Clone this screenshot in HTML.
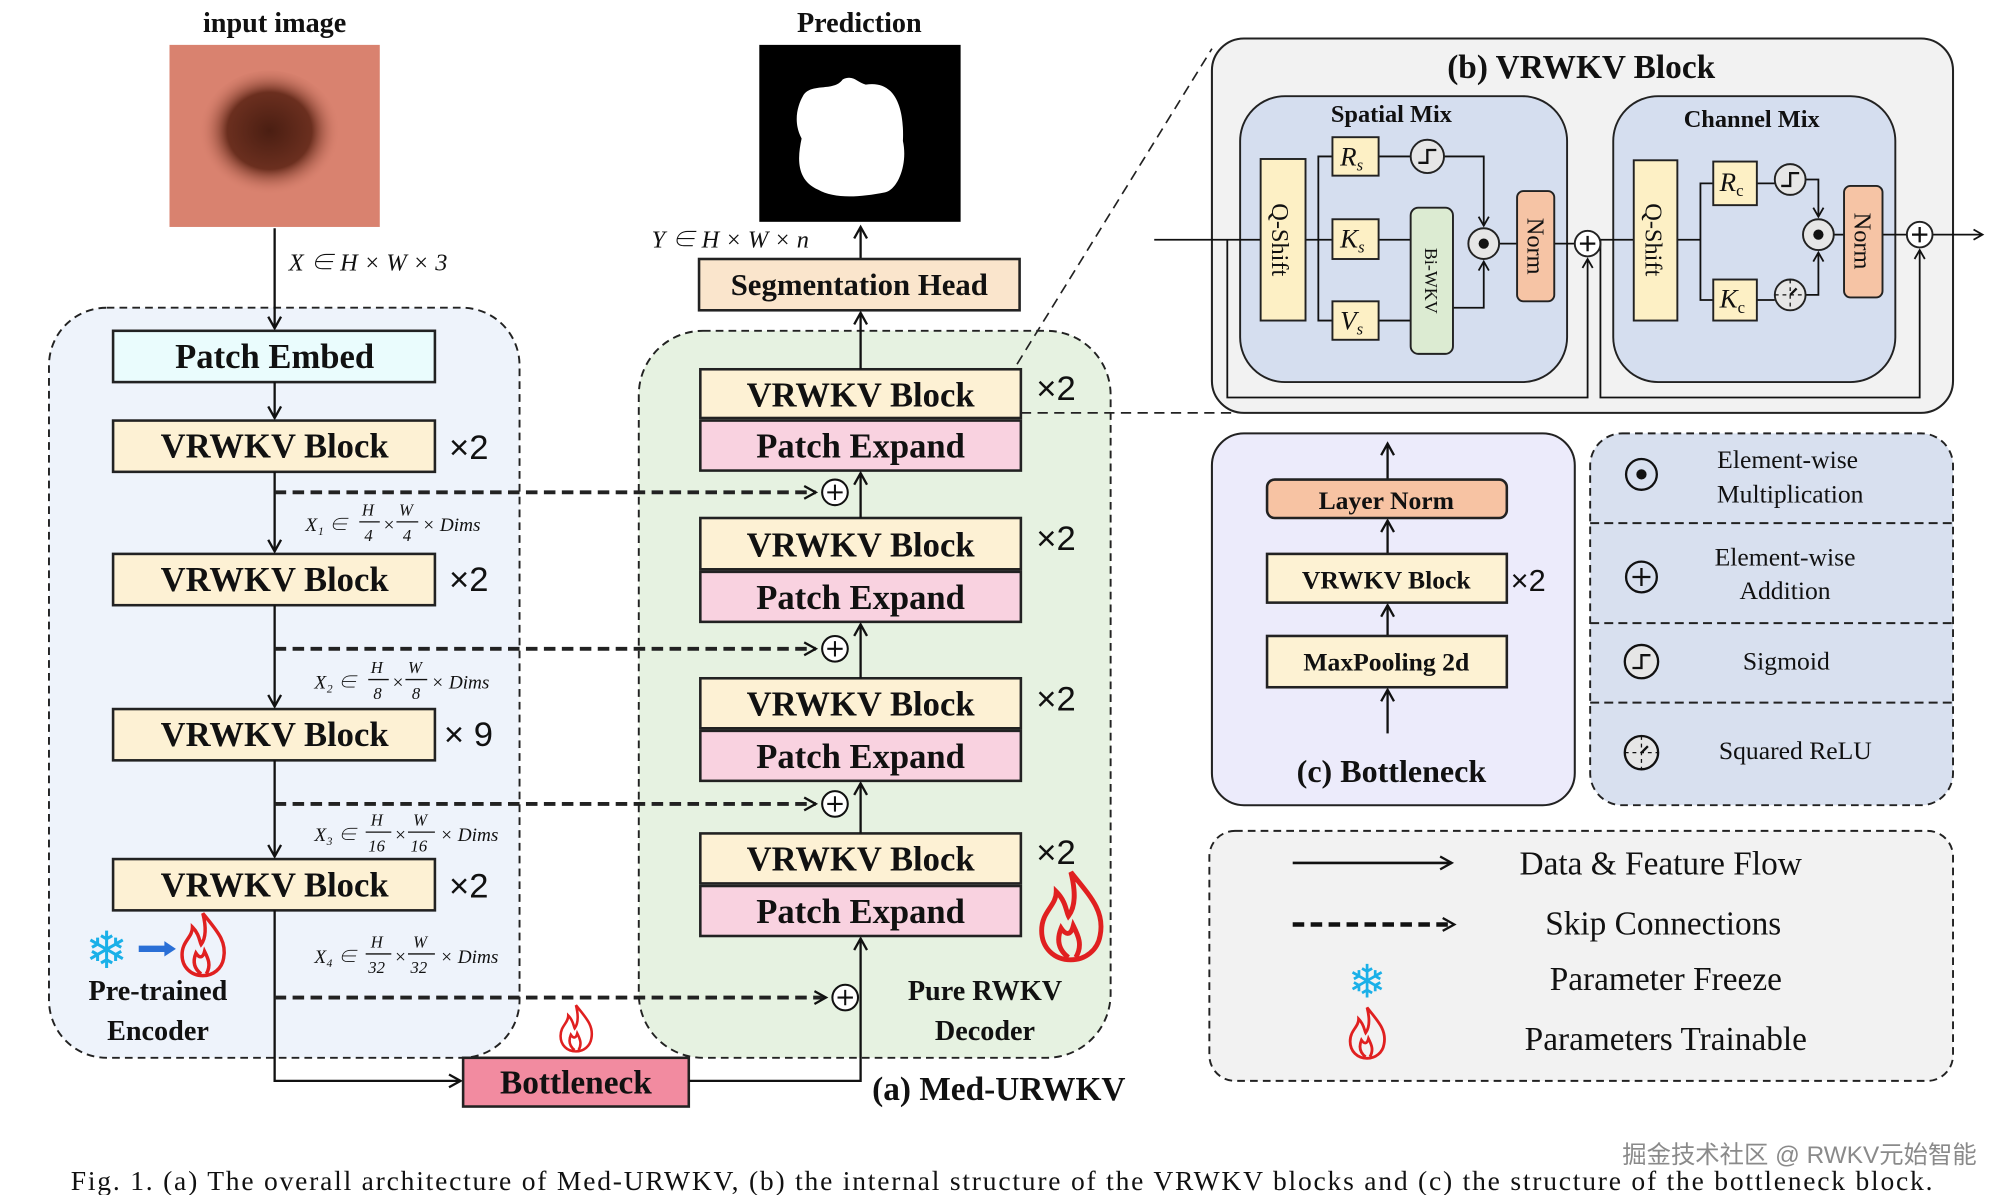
<!DOCTYPE html>
<html><head><meta charset="utf-8"><style>
html,body{margin:0;padding:0;background:#fff;width:2002px;height:1195px;overflow:hidden}
svg{display:block}
text{font-family:"Liberation Serif","Noto Serif CJK SC",serif;fill:#111}
.b{font-weight:bold}
.i{font-style:italic}
.bx{stroke:#222;stroke-width:2}
</style></head><body>
<svg width="2002" height="1195" viewBox="0 0 1561 932" xmlns="http://www.w3.org/2000/svg">
<defs>
<marker id="ah" markerWidth="12" markerHeight="12" refX="10" refY="6" orient="auto" markerUnits="userSpaceOnUse">
<path d="M1,1 L10,6 L1,11" fill="none" stroke="#111" stroke-width="1.8"/></marker>
<marker id="ahs" markerWidth="10" markerHeight="10" refX="8" refY="5" orient="auto" markerUnits="userSpaceOnUse">
<path d="M1,1 L8,5 L1,9" fill="none" stroke="#111" stroke-width="1.4"/></marker>
<g id="fire"><path d="M0,-22 C8,-12 14,-6 12,4 C11,10 6,14 0,14 C-7,14 -12,9 -12,2 C-12,-6 -6,-8 -6,-14 C-2,-10 -2,-6 -1,-4 C2,-8 2,-14 0,-22 Z M-1,13 C-5,10 -6,6 -4,1 C-2,4 0,4 1,0 C3,4 5,8 2,13" fill="none" stroke="#e02020" stroke-width="2"/></g>
</defs>

<!-- Encoder container -->
<rect x="38" y="240" width="367" height="585" rx="45" fill="#eef3fb" stroke="#222" stroke-width="1.5" stroke-dasharray="6,4"/>
<!-- Decoder container -->
<rect x="498" y="258" width="368" height="567" rx="50" fill="#e6f2e1" stroke="#222" stroke-width="1.5" stroke-dasharray="6,4"/>

<!-- input image -->
<text x="214" y="25" class="b" font-size="22" text-anchor="middle">input image</text>
<defs><radialGradient id="mole" cx="0.5" cy="0.47" r="0.5"><stop offset="0" stop-color="#4a1e12"/><stop offset="0.6" stop-color="#6b2f1f"/><stop offset="1" stop-color="#d77f6c" stop-opacity="0"/></radialGradient></defs>
<rect x="132" y="35" width="164" height="142" fill="#d9826f"/>
<ellipse cx="210" cy="105" rx="55" ry="50" fill="url(#mole)"/>
<line x1="214" y1="178" x2="214" y2="256" stroke="#111" stroke-width="1.8" marker-end="url(#ah)"/>
<text x="225" y="211" class="i" font-size="19">X ∈ H × W × 3</text>

<!-- encoder blocks -->
<rect x="88" y="258" width="251" height="40" fill="#eafcfd" class="bx"/>
<text x="214" y="287" class="b" font-size="27" text-anchor="middle">Patch Embed</text>
<line x1="214" y1="298" x2="214" y2="326" stroke="#111" stroke-width="1.8" marker-end="url(#ah)"/>
<g font-size="27" class="b">
<rect x="88" y="328" width="251" height="40" fill="#fdf1d4" class="bx"/>
<text x="214" y="357" class="b" text-anchor="middle">VRWKV Block</text>
<rect x="88" y="432" width="251" height="40" fill="#fdf1d4" class="bx"/>
<text x="214" y="461" class="b" text-anchor="middle">VRWKV Block</text>
<rect x="88" y="553" width="251" height="40" fill="#fdf1d4" class="bx"/>
<text x="214" y="582" class="b" text-anchor="middle">VRWKV Block</text>
<rect x="88" y="670" width="251" height="40" fill="#fdf1d4" class="bx"/>
<text x="214" y="699" class="b" text-anchor="middle">VRWKV Block</text>
</g>
<g font-size="27" font-family="Liberation Sans">
<text x="350" y="358" style="font-family:'Liberation Sans',sans-serif">×2</text>
<text x="350" y="461" style="font-family:'Liberation Sans',sans-serif">×2</text>
<text x="346" y="582" style="font-family:'Liberation Sans',sans-serif">× 9</text>
<text x="350" y="700" style="font-family:'Liberation Sans',sans-serif">×2</text>
</g>
<g stroke="#111" stroke-width="1.8">
<line x1="214" y1="368" x2="214" y2="430" marker-end="url(#ah)"/>
<line x1="214" y1="472" x2="214" y2="551" marker-end="url(#ah)"/>
<line x1="214" y1="593" x2="214" y2="668" marker-end="url(#ah)"/>
<polyline points="214,710 214,843 359,843" fill="none" marker-end="url(#ah)"/>
</g>
<!-- dim labels -->
<g font-size="15" class="i">
<text x="238" y="414">X₁ ∈</text><text x="282" y="402" font-size="13">H</text><line x1="280" y1="407" x2="296" y2="407" stroke="#111"/><text x="284" y="422" font-size="13">4</text><text x="298" y="414">×</text><text x="311" y="402" font-size="13">W</text><line x1="309" y1="407" x2="326" y2="407" stroke="#111"/><text x="314" y="422" font-size="13">4</text><text x="329" y="414">× Dims</text>
<text x="245" y="537">X₂ ∈</text><text x="289" y="525" font-size="13">H</text><line x1="287" y1="530" x2="303" y2="530" stroke="#111"/><text x="291" y="545" font-size="13">8</text><text x="305" y="537">×</text><text x="318" y="525" font-size="13">W</text><line x1="316" y1="530" x2="333" y2="530" stroke="#111"/><text x="321" y="545" font-size="13">8</text><text x="336" y="537">× Dims</text>
<text x="245" y="656">X₃ ∈</text><text x="289" y="644" font-size="13">H</text><line x1="285" y1="649" x2="305" y2="649" stroke="#111"/><text x="287" y="664" font-size="13">16</text><text x="307" y="656">×</text><text x="322" y="644" font-size="13">W</text><line x1="318" y1="649" x2="339" y2="649" stroke="#111"/><text x="320" y="664" font-size="13">16</text><text x="343" y="656">× Dims</text>
<text x="245" y="751">X₄ ∈</text><text x="289" y="739" font-size="13">H</text><line x1="285" y1="744" x2="305" y2="744" stroke="#111"/><text x="287" y="759" font-size="13">32</text><text x="307" y="751">×</text><text x="322" y="739" font-size="13">W</text><line x1="318" y1="744" x2="339" y2="744" stroke="#111"/><text x="320" y="759" font-size="13">32</text><text x="343" y="751">× Dims</text>
</g>
<!-- skip connections -->
<g stroke="#222" stroke-width="3" stroke-dasharray="9,5" fill="none">
<line x1="214" y1="384" x2="636" y2="384" marker-end="url(#ah)"/>
<line x1="214" y1="506" x2="636" y2="506" marker-end="url(#ah)"/>
<line x1="214" y1="627" x2="636" y2="627" marker-end="url(#ah)"/>
<line x1="214" y1="778" x2="644" y2="778" marker-end="url(#ah)"/>
</g>
<g fill="#fff" stroke="#111" stroke-width="1.6">
<circle cx="651" cy="384" r="10"/><circle cx="651" cy="506" r="10"/><circle cx="651" cy="627" r="10"/><circle cx="659" cy="778" r="10"/>
</g>
<g stroke="#111" stroke-width="1.6">
<path d="M645,384h12M651,378v12M645,506h12M651,500v12M645,627h12M651,621v12M653,778h12M659,772v12"/>
</g>
<!-- snow, fire encoder -->
<text x="83" y="755" font-size="40" text-anchor="middle" style="fill:#1ab0e8;font-family:'DejaVu Sans',sans-serif">❄</text>
<line x1="108" y1="740" x2="130" y2="740" stroke="#2a6fd6" stroke-width="5"/><path d="M128,734 L137,740 L128,746 Z" fill="#2a6fd6"/>
<use href="#fire" transform="translate(158,742) scale(1.35)"/>
<text x="123" y="780" class="b" font-size="22" text-anchor="middle">Pre-trained</text>
<text x="123" y="811" class="b" font-size="22" text-anchor="middle">Encoder</text>

<!-- Bottleneck -->
<use href="#fire" transform="translate(449,806) scale(1)"/>
<rect x="361" y="825" width="176" height="38" fill="#f28ba0" class="bx"/>
<text x="449" y="853" class="b" font-size="26" text-anchor="middle">Bottleneck</text>
<polyline points="537,843 671,843 671,732" fill="none" stroke="#111" stroke-width="1.8" marker-end="url(#ah)"/>

<!-- decoder blocks -->
<g>
<rect x="546" y="288" width="250" height="38" fill="#fdf1d4" class="bx"/><text x="671" y="317" class="b" font-size="27" text-anchor="middle">VRWKV Block</text>
<rect x="546" y="328" width="250" height="39" fill="#f9d2e0" class="bx"/><text x="671" y="357" class="b" font-size="27" text-anchor="middle">Patch Expand</text>
<rect x="546" y="404" width="250" height="40" fill="#fdf1d4" class="bx"/><text x="671" y="434" class="b" font-size="27" text-anchor="middle">VRWKV Block</text>
<rect x="546" y="446" width="250" height="39" fill="#f9d2e0" class="bx"/><text x="671" y="475" class="b" font-size="27" text-anchor="middle">Patch Expand</text>
<rect x="546" y="529" width="250" height="39" fill="#fdf1d4" class="bx"/><text x="671" y="558" class="b" font-size="27" text-anchor="middle">VRWKV Block</text>
<rect x="546" y="570" width="250" height="39" fill="#f9d2e0" class="bx"/><text x="671" y="599" class="b" font-size="27" text-anchor="middle">Patch Expand</text>
<rect x="546" y="650" width="250" height="39" fill="#fdf1d4" class="bx"/><text x="671" y="679" class="b" font-size="27" text-anchor="middle">VRWKV Block</text>
<rect x="546" y="691" width="250" height="39" fill="#f9d2e0" class="bx"/><text x="671" y="720" class="b" font-size="27" text-anchor="middle">Patch Expand</text>
</g>
<g font-size="27" style="font-family:'Liberation Sans',sans-serif">
<text x="808" y="312" style="font-family:'Liberation Sans',sans-serif">×2</text>
<text x="808" y="429" style="font-family:'Liberation Sans',sans-serif">×2</text>
<text x="808" y="554" style="font-family:'Liberation Sans',sans-serif">×2</text>
<text x="808" y="674" style="font-family:'Liberation Sans',sans-serif">×2</text>
</g>
<g stroke="#111" stroke-width="1.8">
<line x1="671" y1="650" x2="671" y2="611" marker-end="url(#ah)"/>
<line x1="671" y1="529" x2="671" y2="487" marker-end="url(#ah)"/>
<line x1="671" y1="404" x2="671" y2="369" marker-end="url(#ah)"/>
<line x1="671" y1="288" x2="671" y2="244" marker-end="url(#ah)"/>
<line x1="671" y1="202" x2="671" y2="177" marker-end="url(#ah)"/>
</g>
<use href="#fire" transform="translate(835,722) scale(1.9)"/>
<text x="768" y="780" class="b" font-size="22" text-anchor="middle">Pure RWKV</text>
<text x="768" y="811" class="b" font-size="22" text-anchor="middle">Decoder</text>
<text x="680" y="858" class="b" font-size="26">(a)  Med-URWKV</text>

<!-- Seg head + prediction -->
<rect x="545" y="202" width="250" height="40" fill="#fae5cc" class="bx"/>
<text x="670" y="230" class="b" font-size="24" text-anchor="middle">Segmentation Head</text>
<text x="670" y="25" class="b" font-size="22" text-anchor="middle">Prediction</text>
<rect x="592" y="35" width="157" height="138" fill="#000"/>
<path d="M626,75 C632,64 650,72 657,62 C665,58 668,64 675,66 C700,62 705,88 704,110 C708,128 700,148 690,150 C670,154 650,155 638,148 C620,140 622,122 625,108 C618,95 622,82 626,75 Z" fill="#fff"/>
<text x="508" y="193" class="i" font-size="19">Y ∈ H × W × n</text>

<!-- dashed zoom lines -->
<line x1="793" y1="284" x2="945" y2="38" stroke="#222" stroke-width="1.3" stroke-dasharray="8,5"/>
<line x1="796" y1="322" x2="965" y2="322" stroke="#222" stroke-width="1.3" stroke-dasharray="8,5"/>

<!-- (b) VRWKV Block -->
<rect x="945" y="30" width="578" height="292" rx="25" fill="#f2f2f2" stroke="#222" stroke-width="1.6"/>
<text x="1233" y="61" class="b" font-size="26" text-anchor="middle">(b) VRWKV Block</text>
<rect x="967" y="75" width="255" height="223" rx="35" fill="#d5deef" stroke="#222" stroke-width="1.5"/>
<text x="1085" y="95" class="b" font-size="19" text-anchor="middle">Spatial Mix</text>
<rect x="1258" y="75" width="220" height="223" rx="35" fill="#d5deef" stroke="#222" stroke-width="1.5"/>
<text x="1366" y="99" class="b" font-size="19" text-anchor="middle">Channel Mix</text>

<g stroke="#111" stroke-width="1.4" fill="none">
<line x1="900" y1="187" x2="983" y2="187"/>
<polyline points="957,187 957,310 1238,310 1238,202" marker-end="url(#ahs)"/>
<line x1="1018" y1="187" x2="1039" y2="187"/>
<polyline points="1039,122 1028,122 1028,250 1039,250"/>
<line x1="1075" y1="122" x2="1100" y2="122"/>
<polyline points="1126,122 1157,122 1157,176" marker-end="url(#ahs)"/>
<line x1="1075" y1="187" x2="1100" y2="187"/>
<line x1="1075" y1="250" x2="1100" y2="250"/>
<polyline points="1133,240 1157,240 1157,204" marker-end="url(#ahs)"/>
<line x1="1169" y1="190" x2="1183" y2="190"/>
<line x1="1212" y1="190" x2="1228" y2="190"/>
<line x1="1248" y1="187" x2="1274" y2="187"/>
<polyline points="1248,187 1248,310 1497,310 1497,195" marker-end="url(#ahs)"/>
<line x1="1308" y1="187" x2="1326" y2="187"/>
<polyline points="1336,143 1326,143 1326,234 1336,234"/>
<line x1="1370" y1="143" x2="1384" y2="143"/>
<line x1="1370" y1="234" x2="1384" y2="234"/>
<polyline points="1408,140 1418,140 1418,169" marker-end="url(#ahs)"/>
<polyline points="1408,230 1418,230 1418,197" marker-end="url(#ahs)"/>
<line x1="1430" y1="183" x2="1438" y2="183"/>
<line x1="1468" y1="183" x2="1487" y2="183"/>
<line x1="1507" y1="183" x2="1546" y2="183" marker-end="url(#ahs)"/>
</g>
<g stroke="#222" stroke-width="1.5">
<rect x="983" y="124" width="35" height="126" fill="#fdf0c5"/>
<rect x="1039" y="107" width="36" height="30" fill="#fdf0c5"/>
<rect x="1039" y="171" width="36" height="31" fill="#fdf0c5"/>
<rect x="1039" y="235" width="36" height="30" fill="#fdf0c5"/>
<rect x="1100" y="162" width="33" height="114" rx="6" fill="#dcebd2"/>
<rect x="1183" y="149" width="29" height="86" rx="5" fill="#f6c4a5"/>
<rect x="1274" y="125" width="34" height="125" fill="#fdf0c5"/>
<rect x="1336" y="126" width="34" height="34" fill="#fdf0c5"/>
<rect x="1336" y="218" width="34" height="32" fill="#fdf0c5"/>
<rect x="1438" y="145" width="30" height="87" rx="5" fill="#f6c4a5"/>
<circle cx="1113" cy="122" r="13" fill="#e6e6e6"/>
<circle cx="1157" cy="190" r="12" fill="#e6e6e6"/>
<circle cx="1238" cy="190" r="10" fill="#fff"/>
<circle cx="1396" cy="140" r="12" fill="#e6e6e6"/>
<circle cx="1396" cy="230" r="12" fill="#e6e6e6"/>
<circle cx="1418" cy="183" r="12" fill="#e6e6e6"/>
<circle cx="1497" cy="183" r="10" fill="#fff"/>
</g>
<g stroke="#111" stroke-width="1.8" fill="none">
<path d="M1106,127 h7 v-10 h7"/><path d="M1389,145 h7 v-10 h7"/>
<path d="M1232,190 h12 M1238,184 v12 M1491,183 h12 M1497,177 v12"/>
<path d="M1384,230 h24 M1396,218 v24" stroke-width="1" stroke-dasharray="3,3"/><path d="M1396,230 l5,-5"/>
</g>
<circle cx="1157" cy="190" r="4" fill="#111"/><circle cx="1418" cy="183" r="4" fill="#111"/>
<g font-size="19">
<text transform="translate(992,187) rotate(90)" text-anchor="middle">Q-Shift</text>
<text transform="translate(1283,187) rotate(90)" text-anchor="middle">Q-Shift</text>
<text transform="translate(1191,192) rotate(90)" text-anchor="middle">Norm</text>
<text transform="translate(1446,188) rotate(90)" text-anchor="middle">Norm</text>
<text transform="translate(1111,219) rotate(90)" text-anchor="middle" font-size="14">Bi-WKV</text>
<text x="1045" y="129" class="i" font-size="21">R<tspan font-size="13" dy="4">s</tspan></text>
<text x="1045" y="193" class="i" font-size="21">K<tspan font-size="13" dy="4">s</tspan></text>
<text x="1045" y="257" class="i" font-size="21">V<tspan font-size="13" dy="4">s</tspan></text>
<text x="1341" y="149" class="i" font-size="21">R<tspan font-size="13" dy="4" font-style="normal">c</tspan></text>
<text x="1341" y="240" class="i" font-size="21">K<tspan font-size="13" dy="4" font-style="normal">c</tspan></text>
</g>

<!-- (c) Bottleneck -->
<rect x="945" y="338" width="283" height="290" rx="25" fill="#ecebfb" stroke="#222" stroke-width="1.6"/>
<g stroke="#111" stroke-width="1.8">
<line x1="1082" y1="572" x2="1082" y2="538" marker-end="url(#ah)"/>
<line x1="1082" y1="496" x2="1082" y2="472" marker-end="url(#ah)"/>
<line x1="1082" y1="432" x2="1082" y2="406" marker-end="url(#ah)"/>
<line x1="1082" y1="374" x2="1082" y2="346" marker-end="url(#ah)"/>
</g>
<rect x="988" y="374" width="187" height="30" rx="6" fill="#f7c3a3" class="bx"/>
<text x="1081" y="397" class="b" font-size="20" text-anchor="middle">Layer Norm</text>
<rect x="988" y="432" width="187" height="38" fill="#fdf2d3" class="bx"/>
<text x="1081" y="459" class="b" font-size="20" text-anchor="middle">VRWKV Block</text>
<text x="1178" y="461" font-size="24" style="font-family:'Liberation Sans',sans-serif">×2</text>
<rect x="988" y="496" width="187" height="40" fill="#fdf2d3" class="bx"/>
<text x="1081" y="523" class="b" font-size="20" text-anchor="middle">MaxPooling 2d</text>
<text x="1085" y="610" class="b" font-size="25" text-anchor="middle">(c) Bottleneck</text>

<!-- operator legend -->
<rect x="1240" y="338" width="283" height="290" rx="25" fill="#d8e0ef" stroke="#222" stroke-width="1.5" stroke-dasharray="6,4"/>
<g stroke="#222" stroke-width="1.5" stroke-dasharray="7,4">
<line x1="1240" y1="408" x2="1523" y2="408"/><line x1="1240" y1="486" x2="1523" y2="486"/><line x1="1240" y1="548" x2="1523" y2="548"/>
</g>
<g stroke="#111" stroke-width="1.8" fill="none">
<circle cx="1280" cy="370" r="12"/><circle cx="1280" cy="450" r="12"/><path d="M1273,450h14M1280,443v14"/>
<circle cx="1280" cy="516" r="13" fill="#e6e6e6"/><path d="M1273,521 h7 v-10 h7"/>
<circle cx="1280" cy="587" r="13" fill="#e6e6e6"/><path d="M1267,587h26M1280,574v26" stroke-width="1" stroke-dasharray="3,3"/><path d="M1280,587 l5,-5"/>
</g>
<circle cx="1280" cy="370" r="4" fill="#111"/>
<g font-size="20" text-anchor="middle">
<text x="1394" y="365">Element-wise</text><text x="1396" y="392">Multiplication</text>
<text x="1392" y="441">Element-wise</text><text x="1392" y="467">Addition</text>
<text x="1393" y="522">Sigmoid</text>
<text x="1400" y="592">Squared ReLU</text>
</g>

<!-- bottom legend -->
<rect x="943" y="648" width="580" height="195" rx="20" fill="#f2f2f2" stroke="#222" stroke-width="1.5" stroke-dasharray="6,4"/>
<line x1="1008" y1="673" x2="1132" y2="673" stroke="#111" stroke-width="2" marker-end="url(#ah)"/>
<line x1="1008" y1="721" x2="1134" y2="721" stroke="#111" stroke-width="3.5" stroke-dasharray="9,5" marker-end="url(#ah)"/>
<text x="1066" y="778" font-size="36" text-anchor="middle" style="fill:#1ab0e8;font-family:'DejaVu Sans',sans-serif">❄</text>
<use href="#fire" transform="translate(1066,810) scale(1.1)"/>
<g font-size="26" text-anchor="middle">
<text x="1295" y="682">Data &amp; Feature Flow</text>
<text x="1297" y="729">Skip Connections</text>
<text x="1299" y="772">Parameter Freeze</text>
<text x="1299" y="819">Parameters  Trainable</text>
</g>

<!-- caption -->
<text x="55" y="928" font-size="21.5" textLength="1452" lengthAdjust="spacing">Fig. 1.  (a) The overall architecture of Med-URWKV, (b) the internal structure of the VRWKV blocks and (c) the structure of the bottleneck block.</text>
<text x="1265" y="907" font-size="19" style="fill:#8a8a8a;font-family:'Liberation Sans','Noto Sans CJK SC',sans-serif">掘金技术社区 @ RWKV元始智能</text>
</svg>
</body></html>
